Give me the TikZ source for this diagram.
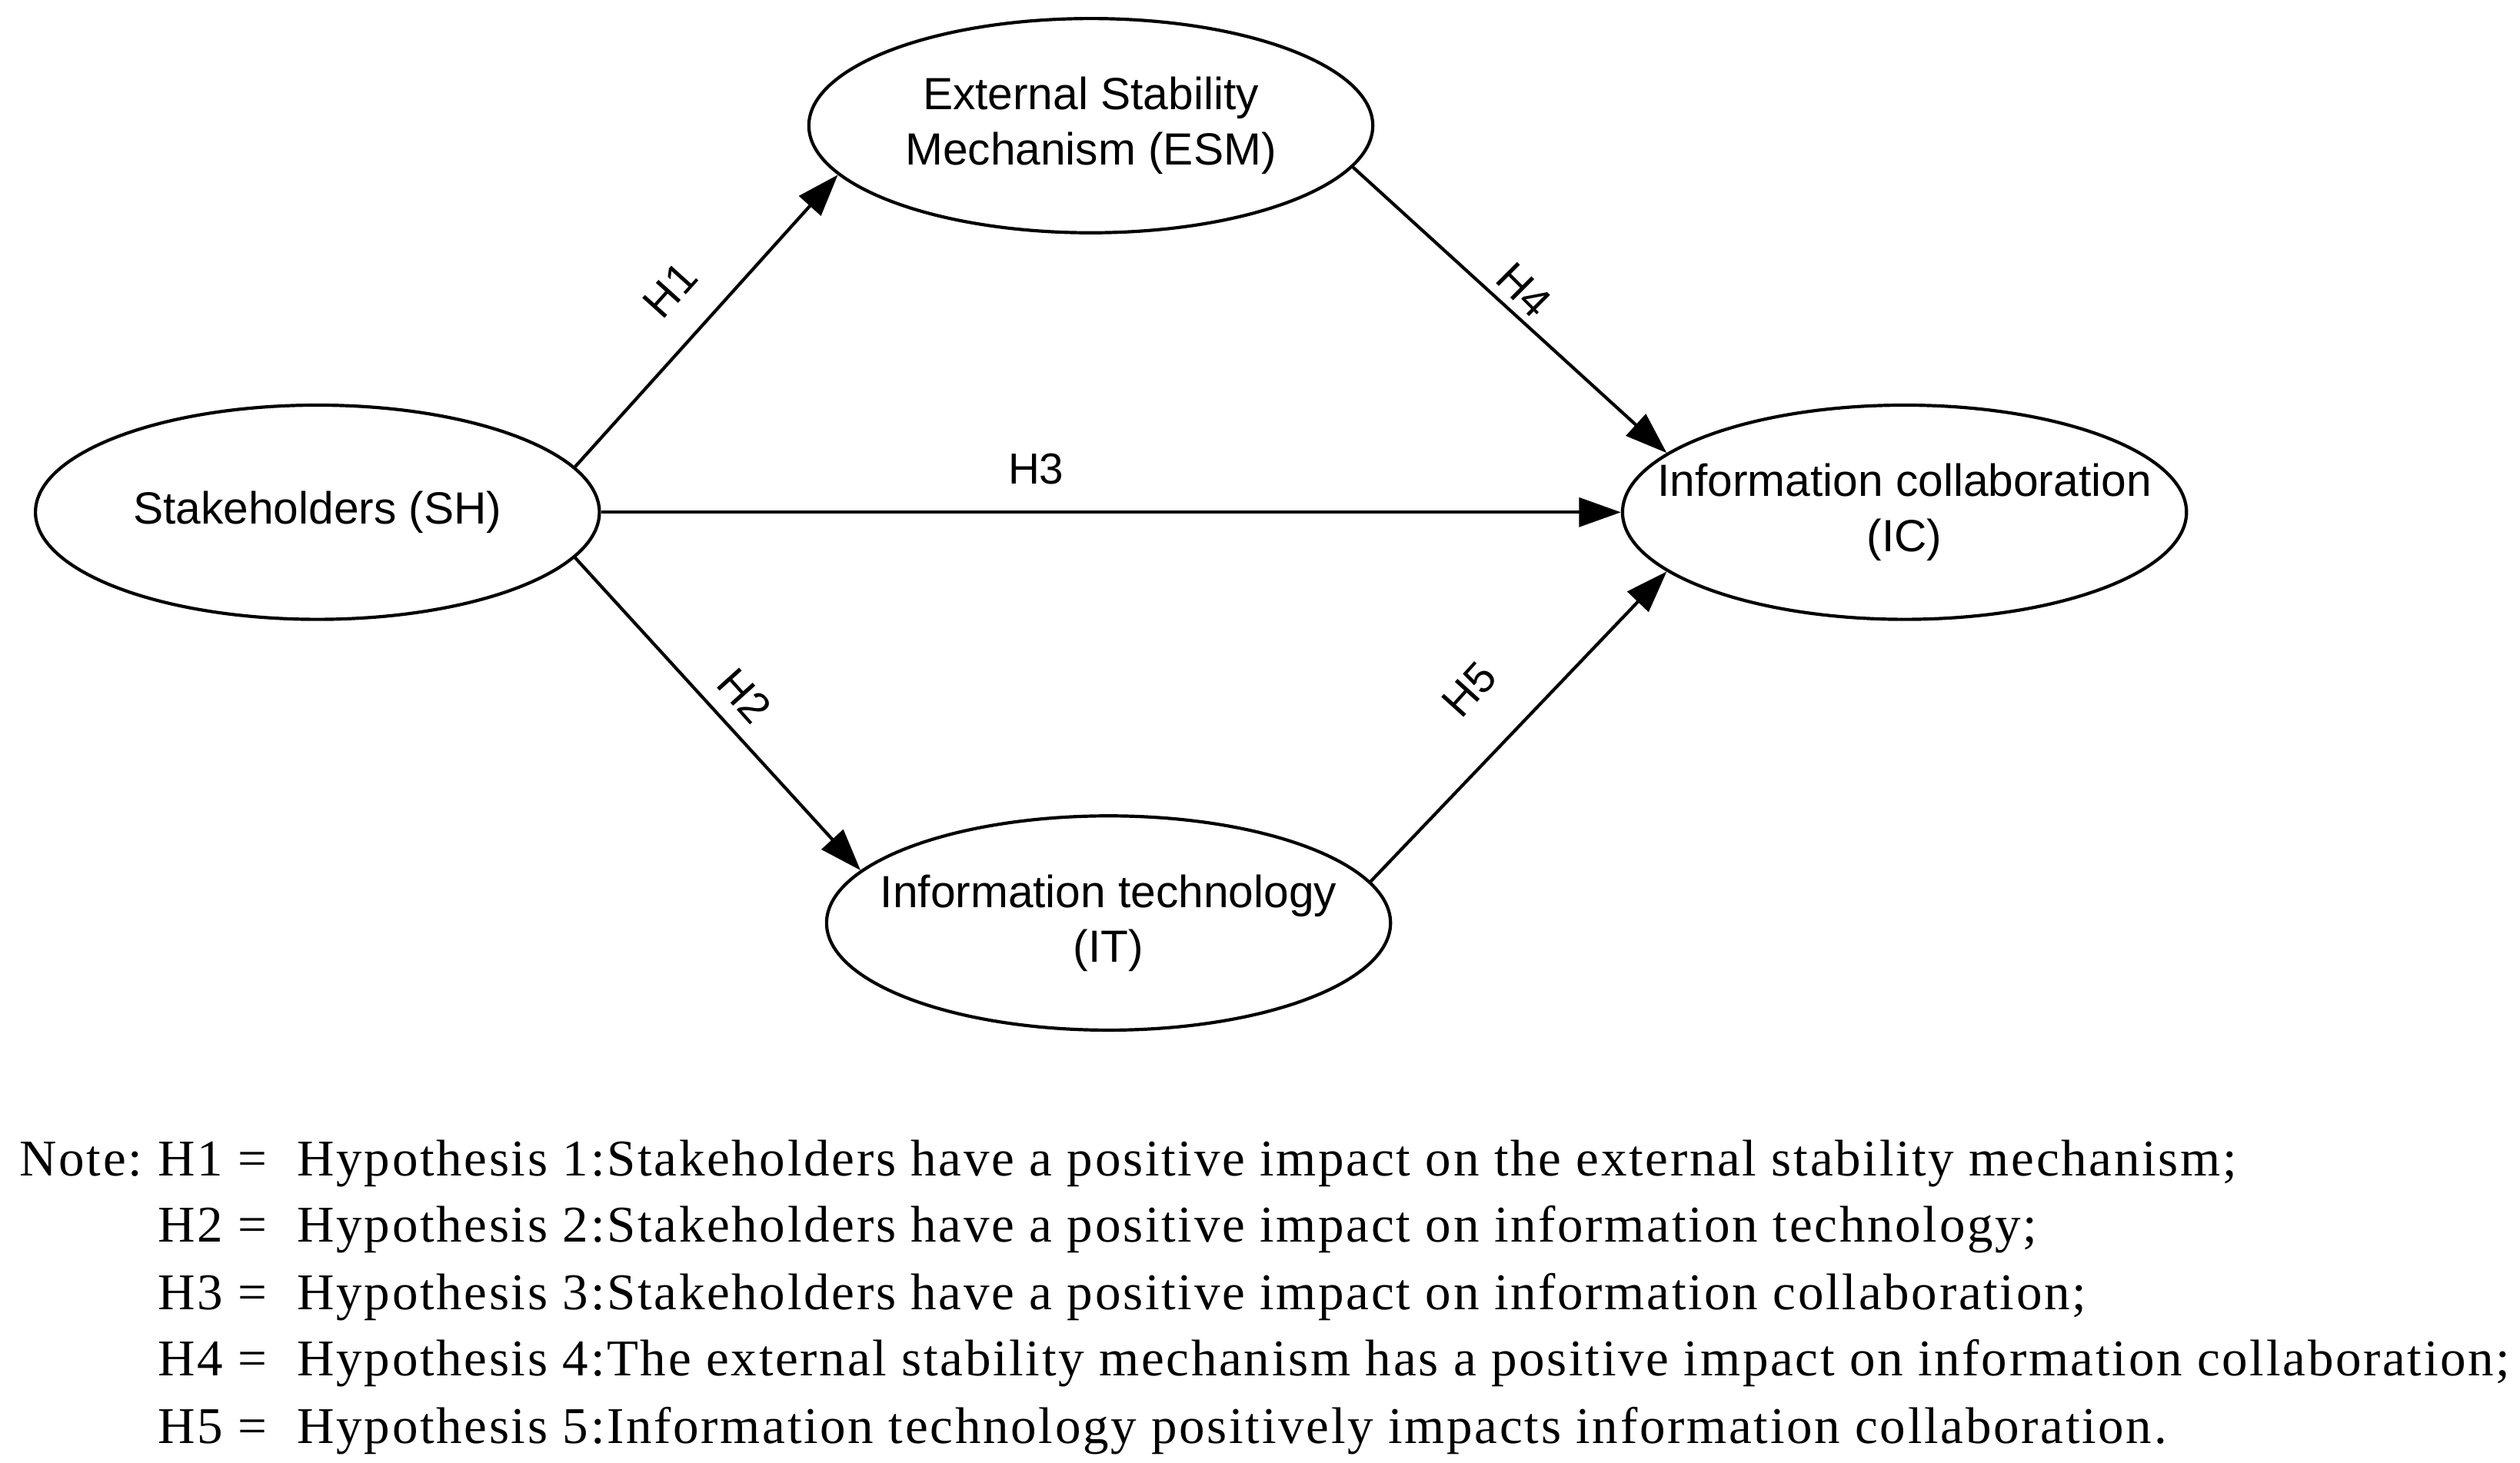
\documentclass[tikz,border=0pt]{standalone}
\usepackage{fontspec}
\setmainfont{Liberation Serif}[LetterSpace=4]
\newfontfamily\arialf{Liberation Sans}
\usetikzlibrary{shapes.geometric,arrows.meta}
\begin{document}
\begin{tikzpicture}[x=1pt,y=-1pt,
  ell/.style={ellipse,draw,line width=2pt,minimum width=350pt,minimum height=133pt,inner sep=0pt},
  etext/.style={align=center,inner sep=0pt,font=\arialf\fontsize{28}{34}\selectfont},
  conn/.style={line width=2pt,-{Triangle[length=26pt,width=18pt]}},
  hlab/.style={font=\arialf\fontsize{27}{30}\selectfont},
  note/.style={anchor=base west,inner sep=0pt,font=\fontsize{32}{36}\selectfont}]
\useasboundingbox (0,0) rectangle (1564,908);
\node[ell] (sh) at (197,318) {};
\node[etext] (sht) at (sh.center) {Stakeholders (SH)};
\node[ell] (esm) at (677,78) {};
\node[etext] (esmt) at (esm.center) {External Stability\\Mechanism (ESM)};
\node[ell] (ic) at (1182,318) {};
\node[etext] (ict) at (ic.center) {Information collaboration\\(IC)};
\node[ell] (it) at (688,573) {};
\node[etext] (itt) at (it.center) {Information technology\\(IT)};
\draw[conn] (sh.10.6) -- (esm.191.4);
\draw[conn] (sh.east) -- (ic.west);
\draw[conn] (sh.-10.6) -- (it.168.9);
\draw[conn] (esm.-9.5) -- (ic.166);
\draw[conn] (it.9.9) -- (ic.194);
\node[hlab,rotate=48] (h1) at (416,180) {H1};
\node[hlab] (h3) at (643,291) {H3};
\node[hlab,rotate=-48] (h2) at (462,432) {H2};
\node[hlab,rotate=-45] (h4) at (946,180) {H4};
\node[hlab,rotate=48] (h5) at (912,428) {H5};
\node[note] (n0) at (12,730) {Note:};
\node[note] (n1) at (98,730) {H1 =\ \ Hypothesis 1:Stakeholders have a positive impact on the external stability mechanism;};
\node[note] (n2) at (98,771) {H2 =\ \ Hypothesis 2:Stakeholders have a positive impact on information technology;};
\node[note] (n3) at (98,813) {H3 =\ \ Hypothesis 3:Stakeholders have a positive impact on information collaboration;};
\node[note] (n4) at (98,854) {H4 =\ \ Hypothesis 4:The external stability mechanism has a positive impact on information collaboration;};
\node[note] (n5) at (98,896) {H5 =\ \ Hypothesis 5:Information technology positively impacts information collaboration.};
\end{tikzpicture}
\end{document}
